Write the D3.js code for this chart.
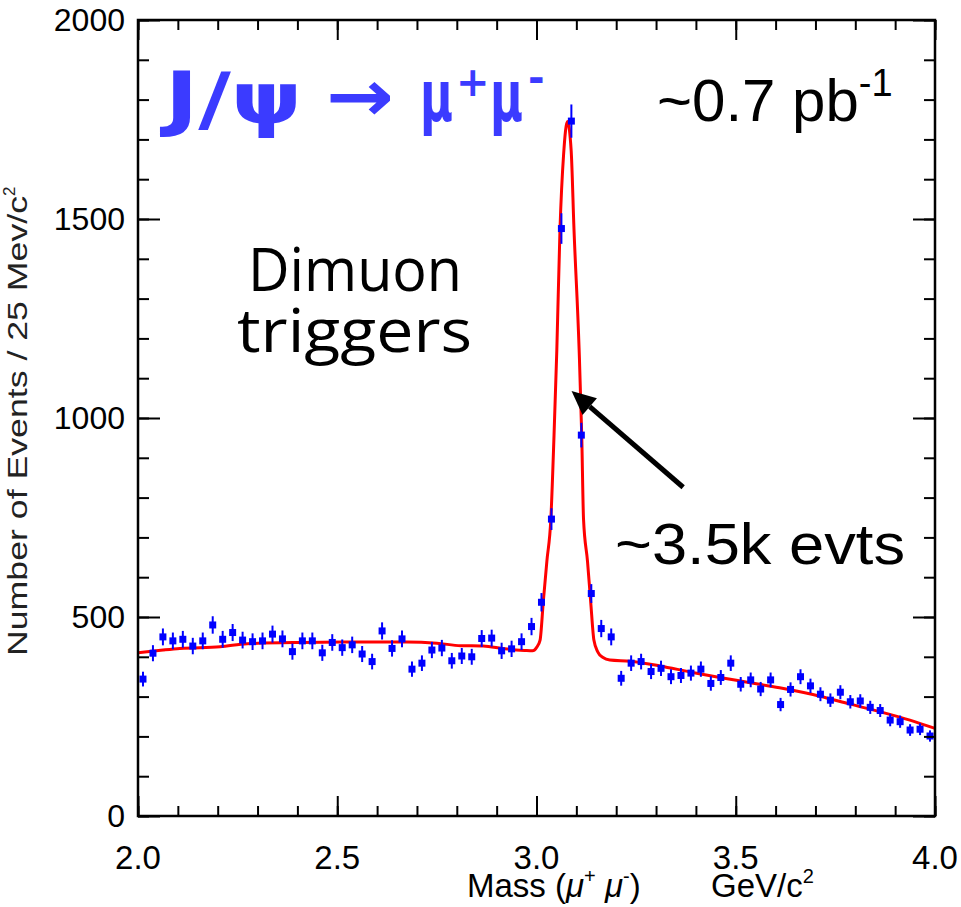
<!DOCTYPE html>
<html><head><meta charset="utf-8">
<script src="https://cdn.jsdelivr.net/npm/d3@7/dist/d3.min.js"></script>
<style>body{margin:0;background:#fff}</style>
</head><body>
<svg id="c" width="961" height="907"></svg>
<script>
// ---- data ----
const binStart = 2.0, binWidth = 0.025;
const counts = [344,409,450,440,444,427,440,480,444,461,
                442,438,440,457,445,413,440,440,410,436,
                423,430,407,388,465,421,445,369,384,417,
                422,390,402,400,446,447,415,420,438,476,
                537,746,1476,1746,957,559,471,450,346,384,
                388,363,371,350,353,359,369,333,348,384,
                331,342,319,342,280,318,350,327,306,291,
                311,287,289,273,265,241,237,216,218,201];
const fitMass  = [2.000,2.063,2.105,2.206,2.274,2.410,2.550,2.675,2.750,2.810,2.866,2.920,2.970,2.990,
                  3.000,3.009,3.017,3.026,3.036,3.044,3.051,3.059,3.068,3.0775,3.087,3.094,3.107,3.1135,
                  3.118,3.128,3.136,3.144,3.154,3.167,3.184,3.235,3.310,3.385,3.460,3.536,3.610,3.711,
                  3.787,3.862,3.937,4.000];
const fitValue = [410,417,421,425,433,436,437,437,434,428,427,420,416,415,
                  423,442,538,640,746,957,1171,1476,1662,1745,1672,1476,1171,957,
                  746,640,538,442,412,398,392,389,377,362,348,335,322,301,
                  281,262,241,220];
const xTicks = [2.0,2.5,3.0,3.5,4.0];
const xTickLabels = ["2.0","2.5","3.0","3.5","4.0"];
const yTicks = [0,500,1000,1500,2000];
const yTickLabels = ["0","500","1000","1500","2000"];
const arrowTail = [3.368, 826], arrowTip = [3.088, 1068];

// ---- layout ----
const svg = d3.select("#c");
const L=138, R=935, T=20, B=816;
const x = d3.scaleLinear().domain([2,4]).range([L,R]);
const y = d3.scaleLinear().domain([0,2000]).range([B,T]);
const sans = "Liberation Sans, Arial, sans-serif";

// ---- fit curve ----
const fit = fitMass.map((m,i)=>[m,fitValue[i]]);
svg.append("path").datum(fit)
  .attr("d", d3.line().x(d=>x(d[0])).y(d=>y(d[1])).curve(d3.curveMonotoneX))
  .attr("fill","none").attr("stroke","#ff0000").attr("stroke-width",3);

// ---- data points ----
const pts = counts.map((c,i)=>({m: binStart + (i+0.5)*binWidth, v:c, e:Math.sqrt(c)}));
const g = svg.append("g");
g.selectAll("line.err").data(pts).enter().append("line")
  .attr("x1",d=>x(d.m)).attr("x2",d=>x(d.m))
  .attr("y1",d=>y(d.v-d.e)).attr("y2",d=>y(d.v+d.e))
  .attr("stroke","#0000ff").attr("stroke-width",2);
g.selectAll("rect.pt").data(pts).enter().append("rect")
  .attr("x",d=>x(d.m)-3.5).attr("y",d=>y(d.v)-3.5).attr("width",7).attr("height",7)
  .attr("fill","#0000ff");

// ---- axes (ticks inside, all four sides) ----
function ticksX(vals, len, top){
  svg.append("g").attr("transform",`translate(0,${top?T:B})`)
    .call((top?d3.axisTop(x):d3.axisBottom(x)).tickValues(vals).tickSize(-len).tickFormat(""))
    .call(s=>{s.select(".domain").remove(); s.selectAll("line").attr("stroke","#000").attr("stroke-width",2);});
}
function ticksY(vals, len, right){
  svg.append("g").attr("transform",`translate(${right?R:L},0)`)
    .call((right?d3.axisRight(y):d3.axisLeft(y)).tickValues(vals).tickSize(-len).tickFormat(""))
    .call(s=>{s.select(".domain").remove(); s.selectAll("line").attr("stroke","#000").attr("stroke-width",2);});
}
const xMinor = d3.range(21).map(i=>2+i*0.1);
const yMinor = d3.range(21).map(i=>i*100);
[false,true].forEach(t=>{ ticksX(xMinor,10,t); ticksX(xTicks,20,t); ticksY(yMinor,11,t); ticksY(yTicks,22,t); });
svg.append("rect").attr("x",L).attr("y",T).attr("width",R-L).attr("height",B-T)
  .attr("fill","none").attr("stroke","#000").attr("stroke-width",2.5);

// tick labels
svg.selectAll("text.xt").data(xTicks).enter().append("text")
  .attr("x",d=>x(d)).attr("y",B+53).attr("text-anchor","middle")
  .attr("font-family",sans).attr("font-size",33)
  .text((d,i)=>xTickLabels[i]);
svg.selectAll("text.yt").data(yTicks).enter().append("text")
  .attr("x",L-13).attr("y",d=>y(d)+11).attr("text-anchor","end")
  .attr("font-family",sans).attr("font-size",32)
  .text((d,i)=>yTickLabels[i]);

// axis titles
const xt = svg.append("text").attr("x",467).attr("y",897)
  .attr("font-family",sans).attr("font-size",33);
xt.append("tspan").text("Mass (");
xt.append("tspan").attr("font-style","italic").text("μ");
xt.append("tspan").attr("font-size",20).attr("dy",-14).text("+");
xt.append("tspan").attr("font-style","italic").attr("dy",14).text(" μ");
xt.append("tspan").attr("font-size",20).attr("dy",-14).text("-");
xt.append("tspan").attr("dy",14).text(")");
xt.append("tspan").attr("x",711).text("GeV/c");
xt.append("tspan").attr("font-size",20).attr("dy",-14).text("2");

const yt = svg.append("text").attr("transform","translate(27,656) rotate(-90)")
  .attr("font-family",sans).attr("font-size",28)
  .attr("fill","#222");
yt.append("tspan").attr("textLength",460).attr("lengthAdjust","spacingAndGlyphs").text("Number of Events / 25 Mev/c");
yt.append("tspan").attr("font-size",17).attr("dy",-12).text("2");

// ---- annotations ----
const blue="#3b3bff";
const title = svg.append("text").attr("font-family","DejaVu Sans, sans-serif")
  .attr("font-weight","bold").attr("fill",blue);
title.append("tspan").attr("x",165).attr("y",123).attr("font-size",72)
  .attr("textLength",137).attr("lengthAdjust","spacingAndGlyphs").text("J/ψ");
title.append("tspan").attr("x",326).attr("y",121).attr("font-size",72)
  .attr("textLength",68).attr("lengthAdjust","spacingAndGlyphs").text("→");
title.append("tspan").attr("x",420).attr("y",121).attr("font-size",72)
  .attr("textLength",33).attr("lengthAdjust","spacingAndGlyphs").text("μ");
title.append("tspan").attr("x",456).attr("y",96).attr("font-size",40).text("+");
title.append("tspan").attr("x",490).attr("y",121).attr("font-size",72)
  .attr("textLength",33).attr("lengthAdjust","spacingAndGlyphs").text("μ");
title.append("tspan").attr("x",528).attr("y",92).attr("font-size",40).text("-");

const lum = svg.append("text").attr("x",657).attr("y",121)
  .attr("font-family",sans).attr("font-size",60).attr("fill","#000");
lum.append("tspan").text("~0.7 pb");
lum.append("tspan").attr("font-size",38).attr("dy",-25).text("-1");

const dim = svg.append("text").attr("font-family","Open Sans, Noto Sans, sans-serif").attr("font-size",60);
dim.append("tspan").attr("x",248).attr("y",291)
  .attr("textLength",214).attr("lengthAdjust","spacingAndGlyphs").text("Dimuon");
dim.append("tspan").attr("x",237).attr("y",352)
  .attr("textLength",235).attr("lengthAdjust","spacingAndGlyphs").text("triggers");

svg.append("text").attr("x",615).attr("y",564)
  .attr("font-family",sans).attr("font-size",58)
  .attr("textLength",290).attr("lengthAdjust","spacingAndGlyphs").text("~3.5k evts");

// arrow
const x0=x(arrowTail[0]), y0=y(arrowTail[1]), x1=x(arrowTip[0]), y1=y(arrowTip[1]);
const ang = Math.atan2(y1-y0, x1-x0);
const hl=24, hw=11;
const bx = x1 - hl*Math.cos(ang), by = y1 - hl*Math.sin(ang);
svg.append("line").attr("x1",x0).attr("y1",y0).attr("x2",bx).attr("y2",by)
  .attr("stroke","#000").attr("stroke-width",5);
svg.append("path").attr("d",`M${x1},${y1}L${bx+hw*Math.sin(ang)},${by-hw*Math.cos(ang)}L${bx-hw*Math.sin(ang)},${by+hw*Math.cos(ang)}Z`)
  .attr("fill","#000");
</script>
</body></html>
